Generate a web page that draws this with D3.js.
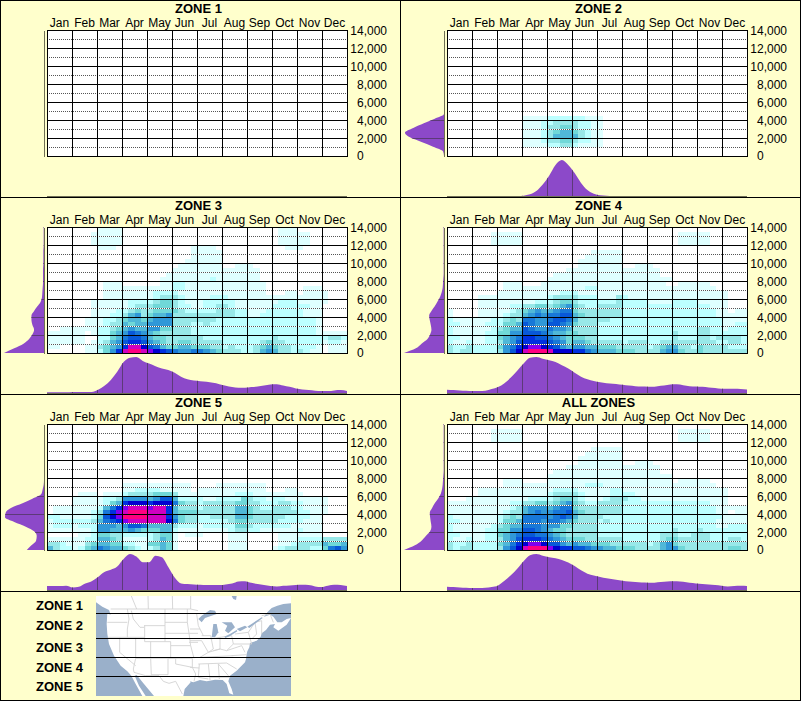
<!DOCTYPE html>
<html><head><meta charset="utf-8">
<script src="https://cdn.jsdelivr.net/npm/d3@7/dist/d3.min.js"></script>
<style>html,body{margin:0;padding:0;background:#ffffcc}svg{display:block}text{font-family:"Liberation Sans",Arial,sans-serif;fill:#000}</style>
</head><body><svg id="c" width="801" height="701"></svg>
<script>
const months=["Jan","Feb","Mar","Apr","May","Jun","Jul","Aug","Sep","Oct","Nov","Dec"];
const elevTicks=[0,2000,4000,6000,8000,10000,12000,14000];
const zoneNames=["ZONE 1","ZONE 2","ZONE 3","ZONE 4","ZONE 5","ALL ZONES"];
const levelColors=["#ffffff","#dfffff","#bcffff","#98e8e8","#70d8d8","#50b8d8","#3098d8","#1878d8","#0858d8","#0030e0","#0000d0","#8000f0","#d000c0","#ff0080"];

const zone1Heat=[];
const zone2Heat=["","","","","","","","","","","","","","","","","","","",
"0000 0000 0000 1111 2222 2211 1000",
"0000 0000 0000 1112 2333 3221 1000",
"0000 0000 0000 1112 3344 3221 1000",
"0000 0000 0000 1112 3455 4321 1000",
"0000 0000 0000 1112 3555 5321 1000",
"0000 0000 0000 1112 3344 3221 1000",
"0000 0000 0000 1111 2233 2111 1000"];
const zone3Heat=[
"0000 0000 1111 0000 0000 0000 0000 0000 0000 0111 0000 0000",
"0000 0001 1111 0000 0000 0000 0000 0000 0000 0111 1100 0000",
"0000 0001 1111 0000 0000 0000 0000 0000 0000 0111 1100 0000",
"0000 0001 1111 0000 0000 0000 0000 0000 0000 0111 1100 0000",
"0000 0000 1110 0000 0000 0001 1110 0000 0000 0011 1000 0000",
"0000 0000 0000 0000 0000 0001 1111 0000 0000 0000 0000 0000",
"0000 0000 0000 0000 0000 0001 1111 0000 0000 0000 0000 0000",
"0000 0000 0000 0000 0000 0011 1111 0000 0000 0000 0000 0000",
"0000 0000 0000 0000 0000 0111 1111 0011 1000 0000 0000 0000",
"0000 0000 0000 0000 0000 1111 1111 1111 1100 0000 0000 0000",
"0000 0000 0000 0000 0001 1111 1111 1111 1100 0000 0000 0000",
"0000 0000 0000 0000 0011 1111 1121 1111 1100 0000 0000 0000",
"0000 0000 0111 0000 0011 2211 1111 1111 1110 0000 0000 0000",
"0000 0000 0111 1111 1111 2211 1111 1111 1110 0000 0111 0000",
"0000 0000 0111 1111 1222 2111 1111 1111 1110 0011 0111 1000",
"0000 0000 0111 1111 1233 3211 1122 2111 1111 1111 1111 1000",
"0000 0001 1111 1222 2344 3211 1222 2211 1111 1222 1111 1000",
"0000 0001 1111 1233 3444 3221 1223 3211 1111 2222 2211 0000",
"0000 0001 1112 2343 3444 4322 2223 3322 1112 2222 2111 0000",
"0000 0001 1122 3563 4556 3333 3333 3322 1122 2222 2111 0000",
"0000 0011 1223 4554 5666 3333 3332 2222 2222 2222 2221 0000",
"0000 0011 1233 5455 6666 3332 2322 2222 2222 2222 2221 0000",
"0011 1111 2234 5655 6644 3332 2222 2222 2222 2222 2221 0000",
"1111 1101 2245 6876 5433 3332 2222 2222 2222 2222 2221 1111",
"1111 1100 2245 7887 5443 3333 3222 2222 2222 3222 2222 2332",
"1111 1101 2356 8998 6543 3443 3333 2222 2234 3322 2222 1221",
"1100 0011 3456 9cca 8754 4554 4433 2322 2345 4332 2221 0111",
"0000 0011 2469 cddc ba98 7667 7654 3332 2356 5332 3211 0111"];
const zone4Heat=[
"",
"0000 0001 1111 0000 0000 0000 0000 0000 0000 0111 1100 0000",
"0000 0001 1111 0000 0000 0000 0000 0000 0000 0111 1100 0000",
"0000 0001 1111 0000 0000 0000 0000 0000 0000 0111 1100 0000",
"",
"0000 0000 0000 0000 0000 0001 1111 0000 0000 0000 0000 0000",
"0000 0000 0000 0000 0000 0011 1111 0000 0000 0000 0000 0000",
"0000 0000 0000 0000 0000 0111 1111 0000 0000 0000 0000 0000",
"0000 0000 0000 0000 0000 0111 1111 0011 1000 0000 0000 0000",
"0000 0000 0000 0000 0001 1111 1111 1111 1100 0000 0000 0000",
"0000 0000 0000 0000 0111 1111 1111 1111 1100 0000 0000 0000",
"0000 0000 0000 0000 1111 1111 1111 1111 1111 0000 0000 0000",
"0000 0000 0111 0001 1111 1111 1111 1111 1110 0111 1100 0000",
"0000 0000 0111 1111 1111 1122 1111 1111 1111 1111 1110 0000",
"0000 0000 1111 1111 1122 2111 1111 1111 1111 1111 1111 1000",
"0000 0111 1111 1111 2333 3222 1113 2111 1111 1111 1111 1000",
"0000 0111 1111 1122 2344 3222 2223 2222 1111 2222 1111 1000",
"0000 0111 1122 3344 3456 4322 3333 2222 2222 2222 2211 1000",
"1000 0111 1123 4565 5677 4333 3333 2222 2222 2222 2221 1011",
"1000 0111 1233 5676 7788 5433 3333 2222 2222 2222 2221 1111",
"2111 1112 2343 7766 7887 5333 3322 2222 2222 2222 2222 1111",
"2211 1122 2445 8766 8876 4333 2222 2222 2222 2222 2222 1122",
"2111 1112 3455 8766 7665 3333 2222 2222 2222 2222 3322 1222",
"2111 1122 4466 8887 6554 4333 2222 2222 2222 3222 3322 2222",
"2211 1122 4567 9988 7654 4433 2222 2222 2222 3222 3323 3332",
"2112 1122 3568 9999 8764 5543 3333 2333 2233 3333 3332 2332",
"3223 2222 4679 abba 9865 6655 4443 3333 2345 5332 4333 3222",
"3233 2222 368a cddd caaa 9976 5554 4433 3356 6433 4333 3333"];
const zone5Heat=["","","","","","","","","","","","","",
"0000 0000 0000 1111 1111 1110 0001 1111 1110 0000 0000 0000",
"0000 0000 0000 1122 2211 1110 1111 1111 1110 0011 0000 0000",
"0000 0111 0111 2333 3444 3111 1111 1122 2111 1111 1000 0000",
"0000 1111 1223 6666 5688 5222 2112 2224 3221 2211 1111 1000",
"0000 1111 1245 9aaa 9aaa 7433 2333 3344 3322 2332 2111 1000",
"0111 1111 2579 bccc bcc9 5333 2333 3355 4322 3332 2111 1000",
"0111 1112 379b cddd ccc9 5444 3333 3355 4333 3333 2211 1000",
"2211 1112 48ab dddd ccc9 6433 2233 3355 4333 3322 2211 0000",
"1222 2223 5789 bccc ccca 7433 2222 2344 3333 3222 2111 0000",
"1222 1222 6665 6887 5555 3222 1222 2244 3222 2221 1111 0000",
"1111 1112 6655 5654 4455 2111 1111 1233 2211 1111 2111 0000",
"0000 0112 4433 2222 2344 1011 1000 0111 0000 0111 1111 0000",
"1111 1122 5543 1111 2354 1000 0000 0111 0000 0111 2222 3333",
"3321 1134 5544 2211 4454 1000 0000 0111 0000 0112 3333 5445",
"5322 1245 7655 4321 2354 1000 0000 0111 0000 1233 3322 4786"];
const allHeat=[
"",
"0000 0001 1111 0000 0000 0000 0000 0000 0000 0111 1100 0000",
"0000 0001 1111 0000 0000 0000 0000 0000 0000 0111 1100 0000",
"0000 0001 1111 0000 0000 0000 0000 0000 0000 0111 1100 0000",
"",
"0000 0000 0000 0000 0000 0001 1111 0000 0000 0000 0000 0000",
"0000 0000 0000 0000 0000 0011 1111 0000 0000 0000 0000 0000",
"0000 0000 0000 0000 0000 0111 1111 0000 0000 0000 0000 0000",
"0000 0000 0000 0000 0000 0111 1111 0011 1000 0000 0000 0000",
"0000 0000 0000 0000 0001 1111 1111 1111 1100 0000 0000 0000",
"0000 0000 0000 0000 0111 1111 1111 1111 1100 0000 0000 0000",
"0000 0000 0000 0000 1111 1111 1111 1111 1111 0000 0000 0000",
"0000 0000 0111 0000 1111 1111 1111 1111 1111 0111 1100 0000",
"0000 0000 0111 1111 1111 1122 2111 1111 1111 1111 1110 0000",
"0000 0111 1111 1111 1222 2111 1122 1111 1111 1111 1111 1000",
"0000 0111 1111 1111 2333 3211 1122 2211 1111 1111 1111 1000",
"0001 1111 1111 1222 2344 3211 1233 3221 1111 1111 1111 1000",
"1111 1111 1122 3344 3456 4322 3333 2222 2222 2222 2211 1000",
"1111 1111 1123 5666 5677 4333 3333 2222 2222 2222 2221 1111",
"1111 1111 1233 5676 6778 5433 3333 2222 2222 2222 2221 1011",
"2111 1111 2343 7777 6787 5333 3222 2222 2222 2222 2222 1111",
"2211 1111 2445 7776 7765 4333 2322 2222 2222 2222 2221 1111",
"2111 1112 3455 7776 6644 3333 2222 2222 2222 2222 2221 1222",
"2111 1122 4466 8876 5443 3333 2222 2222 2222 3222 3222 2222",
"2211 1122 4567 8877 6543 3333 2222 2222 2233 3223 3322 2222",
"2112 1122 3568 9998 7654 4433 3333 2222 2234 4333 3322 2332",
"3223 2222 4579 abba 8865 6554 4433 3333 2356 4333 3333 3333",
"3233 2222 368a cddd ba99 8876 6554 4433 3356 6433 3333 3443"];

const zone1Month=[];
const zone2Month=[0,0,0,0,0,0,0,0,0,0,0,0,1,5,15,35,62,95,110,95,70,40,18,7,2,1,0,0,0,0,0,0,0,0,0,0,0,0,0,0,0,0,0,0,0,0,0,0];
const zone3Month=[2,2,2,2,3,3,3,3,10,22,40,65,95,108,110,98,90,82,75,70,62,50,42,38,36,34,31,27,22,18,16,16,18,20,23,26,27,23,19,14,11,9,7,6,6,8,9,6];
const zone4Month=[10,9,8,7,6,6,7,12,18,30,47,68,90,108,110,105,100,95,85,75,62,50,42,37,33,30,28,26,24,22,20,20,19,21,23,26,27,24,21,20,19,17,15,13,13,13,12,11];
const zone5Month=[12,12,12,13,8,10,20,27,40,55,62,72,95,110,102,85,85,105,100,70,38,20,18,17,16,15,15,15,17,20,26,27,22,18,15,12,11,13,14,15,16,15,11,9,13,16,15,12];
const allMonth=[10,9,8,7,6,6,7,9,14,28,45,65,88,106,110,105,100,97,92,84,73,60,50,44,40,36,33,30,27,25,24,23,22,24,25,27,27,25,22,20,18,17,15,13,11,12,13,12];
const zone1Elev=[];
const zone2Elev=[0,0,0,0,0,0,0,0,0,0,0,0,0,0,0,0,0,0,0,28,61,93,118,103,68,33,3,0];
const zone3Elev=[1,1,1,1,1,2,2,2,2,3,3,3,3,4,5,6,10,20,30,38,38,35,30,35,45,62,90,121];
const zone4Elev=[1,1,1,1,1,1,1,1,1,1,1,2,3,4,7,12,20,28,38,45,43,40,38,42,50,68,85,121];
const zone5Elev=[0,0,0,0,0,0,0,0,0,0,0,0,0,1,4,8,35,65,100,116,118,90,55,30,22,24,38,52];
const allElev=[1,1,1,1,1,1,1,1,1,1,1,2,3,4,6,10,18,28,36,43,42,40,38,42,55,68,88,121];

const legendZones=["ZONE 1","ZONE 2","ZONE 3","ZONE 4","ZONE 5"];
const legendY=[605,625,647,667,686];
const bandBreaks=[70,143,200,259];

// map trace: two hand-read halves of the inset
const west=p=>p.map(([u,v])=>[u+282,v+12]);
const east=p=>p.map(([u,v])=>[u+570,v+12]);
const mapLand=[[288,18],...east([[303,6],[303,28],[280,30],[262,35],[245,42],[232,55],[222,68],[240,62],[250,68],[262,85],[275,85],[290,75],[303,72],[290,92],[265,110],[250,100],[255,90],[240,92],[228,108],[215,118],[212,128],[200,140],[180,147],[178,160],[172,172],[170,180],[168,195],[165,205],[140,230],[120,245],[115,262],[125,285],[130,302],[118,298],[110,270],[98,258],[75,257],[50,262],[30,258],[10,265],[0,262]]),
 ...west([[290,265],[272,285],[268,306],[180,306],[150,270],[128,243],[122,245],[135,275],[155,306],[145,306],[125,270],[112,245],[100,232],[80,215],[60,185],[45,150],[40,120],[38,90],[40,58],[50,62],[45,48],[25,38],[6,25]])];
const mapLakes=[
 east([[25,75],[35,65],[60,48],[75,50],[80,60],[65,65],[45,72],[35,85]]),
 east([[70,90],[80,90],[85,115],[75,130],[65,130]]),
 east([[95,85],[125,85],[135,100],[115,118],[105,110],[112,95]]),
 east([[103,128],[120,120],[140,108],[142,112],[120,126],[106,132]]),
 east([[140,105],[165,95],[172,100],[150,112]]),
 east([[172,98],[215,70],[218,72],[178,102]]),
 east([[125,6],[140,6],[138,18],[130,15]])];
const mapBorders=[
 ...[[[112,6],[128,45]],[[162,6],[163,45]],[[235,6],[236,45]],[[290,6],[290,45],[312,50]],[[50,45],[290,45]],[[40,85],[100,85]],[[100,45],[105,75],[100,105],[100,130]],[[112,50],[118,75],[138,100],[150,100]],[[150,95],[213,95]],[[152,95],[152,143],[213,143],[213,95]],[[213,45],[213,95]],[[213,85],[280,85]],[[213,118],[285,118]],[[213,143],[230,143],[230,155],[290,155],[285,118]],[[170,143],[170,193],[230,193],[230,155]],[[125,130],[125,193],[170,193]],[[125,130],[152,130]],[[42,130],[125,130]],[[77,130],[77,175],[125,215]],[[125,193],[118,225],[120,235],[155,245],[172,245],[170,193]],[[222,193],[222,242],[172,242]],[[222,193],[245,193],[245,210],[295,220],[305,240],[300,262]],[[172,245],[195,245],[208,262],[225,268],[245,262],[265,300]],[[230,193],[295,193]],[[290,155],[300,193]],[[295,193],[295,220]],[[280,45],[280,85],[285,118]],[[285,145],[312,145]],[[285,118],[312,118]]].map(west),
 ...[[[20,60],[25,95],[40,125]],[[0,105],[30,105]],[[0,140],[35,140]],[[35,125],[62,125],[70,165],[55,175],[35,140]],[[62,135],[90,130],[90,165],[70,170]],[[90,130],[125,125],[130,150],[110,170],[90,165]],[[30,190],[130,185]],[[25,210],[110,207]],[[55,175],[90,165]],[[110,170],[155,155],[165,175]],[[125,185],[170,182]],[[110,207],[140,225]],[[85,210],[115,245]],[[55,210],[60,258]],[[85,210],[88,255]],[[60,250],[118,250]],[[28,210],[25,250],[55,255]],[[0,220],[28,222]],[[135,120],[175,115],[185,150],[130,150]],[[175,115],[195,85],[200,120],[185,135]],[[195,85],[215,80],[215,120]],[[215,65],[240,60],[250,85]],[[30,190],[55,175]]].map(east)];

const heats=[zone1Heat,zone2Heat,zone3Heat,zone4Heat,zone5Heat,allHeat];
const monthProfiles=[zone1Month,zone2Month,zone3Month,zone4Month,zone5Month,allMonth];
const elevProfiles=[zone1Elev,zone2Elev,zone3Elev,zone4Elev,zone5Elev,allElev];

const svg=d3.select("#c");
const BG="#ffffcc",PURPLE="#8c49c9",DARK="#5c3a78",BASE="#6f6f55";
svg.append("rect").attr("width",801).attr("height",701).attr("fill",BG);

const L=47,R=347,T=30,B=156,N=48,NR=28;
const xCol=d3.scaleBand().domain(d3.range(N)).range([L,R]);
const yRow=d3.scaleBand().domain(d3.range(NR)).range([T,B]);
const xMonth=d3.scaleBand().domain(months).range([L,R]);
const yElev=d3.scaleLinear().domain([0,14000]).range([B,T]);
const color=d3.scaleOrdinal().domain(d3.range(levelColors.length)).range(levelColors);
const xProf=d3.scalePoint().domain(d3.range(N)).range([L,R]);
const yProf=d3.scalePoint().domain(d3.range(NR)).range([T,B]);
const hMonth=d3.scaleLinear().domain([0,110]).range([196,160]);
const wElev=d3.scaleLinear().domain([0,121]).range([44,4]);
const panelW=400,panelH=197;

zoneNames.forEach((name,i)=>{
  const col=i%2,row=Math.floor(i/2);
  const g=svg.append("g").attr("transform",`translate(${col*panelW},${row*panelH})`);
  g.append("text").attr("x",198.5).attr("y",13).attr("text-anchor","middle").style("font-size","13px").style("font-weight","bold").text(name);
  const mx=g.append("g").attr("transform",`translate(0,${T})`).call(d3.axisTop(xMonth).tickSize(0).tickPadding(0));
  mx.select(".domain").remove();
  mx.selectAll("text").attr("y",-3).attr("dy",0).style("font-size","12px").style("font-family",'"Liberation Sans",Arial,sans-serif').attr("fill","#000");
  g.append("rect").attr("x",L).attr("y",T).attr("width",R-L).attr("height",B-T).attr("fill","#fff");
  const cells=[];
  heats[i].forEach((s,r)=>{s.replace(/ /g,"").split("").forEach((ch,c)=>{const v=parseInt(ch,16);if(v>0)cells.push({r,c,v});});});
  g.append("g").attr("shape-rendering","crispEdges").selectAll("rect").data(cells).join("rect")
    .attr("x",d=>xCol(d.c)).attr("y",d=>yRow(d.r)).attr("width",d=>xCol.bandwidth()+.02).attr("height",d=>yRow.bandwidth()+.02).attr("fill",d=>color(d.v));
  const grid=g.append("g").attr("shape-rendering","crispEdges");
  d3.range(1000,14000,2000).forEach(v=>{
    grid.append("line").attr("x1",L).attr("x2",R).attr("y1",yElev(v)+.5).attr("y2",yElev(v)+.5).attr("stroke","#fff");
    grid.append("line").attr("x1",L).attr("x2",R).attr("y1",yElev(v)+.5).attr("y2",yElev(v)+.5).attr("stroke","#555").attr("stroke-dasharray","1,1");
  });
  elevTicks.forEach(v=>grid.append("line").attr("x1",L).attr("x2",R+1).attr("y1",yElev(v)+.5).attr("y2",yElev(v)+.5).attr("stroke","#000"));
  d3.range(13).forEach(k=>{const x=L+k*xMonth.bandwidth();grid.append("line").attr("x1",x+.5).attr("x2",x+.5).attr("y1",T).attr("y2",B+1).attr("stroke","#000");});
  const ya=g.append("g").attr("transform",`translate(${R},0)`).call(d3.axisRight(yElev).tickValues(elevTicks).tickSize(0).tickFormat(d3.format(",")));
  ya.select(".domain").remove();
  ya.selectAll("text").style("font-size","12px").style("font-family",'"Liberation Sans",Arial,sans-serif').attr("fill","#000")
    .attr("text-anchor",d=>d===0?"start":"end").attr("x",d=>d===0?10:40).attr("dy",d=>d===0?"0.3em":"0.37em");
  const mp=monthProfiles[i],ep=elevProfiles[i];
  if(mp.length){
    const id="cm"+i,area=d3.area().x((d,k)=>xProf(k)).y0(196).y1(d=>hMonth(d)).curve(d3.curveMonotoneX);
    g.append("clipPath").attr("id",id).append("path").attr("d",area(mp));
    g.append("path").attr("d",area(mp)).attr("fill",PURPLE);
    const cg=g.append("g").attr("clip-path",`url(#${id})`).attr("shape-rendering","crispEdges");
    d3.range(1,12).forEach(k=>{const x=L+k*xMonth.bandwidth();cg.append("line").attr("x1",x+.5).attr("x2",x+.5).attr("y1",158).attr("y2",197).attr("stroke",DARK);});
  }
  if(ep.length){
    const id="ce"+i,area=d3.area().y((d,k)=>yProf(k)).x0(44).x1(d=>wElev(d)).curve(d3.curveMonotoneY);
    g.append("clipPath").attr("id",id).append("path").attr("d",area(ep));
    g.append("path").attr("d",area(ep)).attr("fill",PURPLE);
    const cg=g.append("g").attr("clip-path",`url(#${id})`).attr("shape-rendering","crispEdges");
    elevTicks.slice(1).forEach(v=>cg.append("line").attr("x1",0).attr("x2",45).attr("y1",yElev(v)+.5).attr("y2",yElev(v)+.5).attr("stroke",DARK));
  }
  const bl=g.append("g").attr("shape-rendering","crispEdges").attr("stroke",BASE);
  bl.append("line").attr("x1",L).attr("x2",R).attr("y1",196.5).attr("y2",196.5);
  bl.append("line").attr("x1",44.5).attr("x2",44.5).attr("y1",T+1).attr("y2",B+1);
});

const mx=d3.scaleLinear().domain([288,873]).range([96,291]);
const my=d3.scaleLinear().domain([18,318]).range([596,696]);
svg.append("clipPath").attr("id","mapClip").append("rect").attr("x",96).attr("y",596).attr("width",195).attr("height",100);
const mg=svg.append("g").attr("clip-path","url(#mapClip)");
const OCEAN="#9ab0ca";
mg.append("rect").attr("x",96).attr("y",596).attr("width",195).attr("height",100).attr("fill",OCEAN);
const ln=d3.line().x(d=>mx(d[0])).y(d=>my(d[1]));
mg.append("path").attr("d",ln(mapLand)+"Z").attr("fill","#fff");
mapBorders.forEach(p=>mg.append("path").attr("d",ln(p)).attr("fill","none").attr("stroke","#d2d2d2").attr("stroke-width",.9));
mapLakes.forEach(p=>mg.append("path").attr("d",ln(p)+"Z").attr("fill",OCEAN));
bandBreaks.forEach(v=>mg.append("line").attr("x1",96).attr("x2",291).attr("y1",Math.round(my(v))+.5).attr("y2",Math.round(my(v))+.5).attr("stroke","#000").attr("shape-rendering","crispEdges"));
legendZones.forEach((z,i)=>svg.append("text").attr("x",36).attr("y",legendY[i]).attr("dy","0.36em").style("font-size","13px").style("font-weight","bold").text(z));

const fr=svg.append("g").attr("shape-rendering","crispEdges").attr("stroke","#000");
[197,394,591].forEach(y=>fr.append("line").attr("x1",0).attr("x2",801).attr("y1",y+.5).attr("y2",y+.5));
fr.append("line").attr("x1",400.5).attr("x2",400.5).attr("y1",0).attr("y2",591);
fr.append("rect").attr("x",.5).attr("y",.5).attr("width",800).attr("height",700).attr("fill","none");
</script></body></html>
